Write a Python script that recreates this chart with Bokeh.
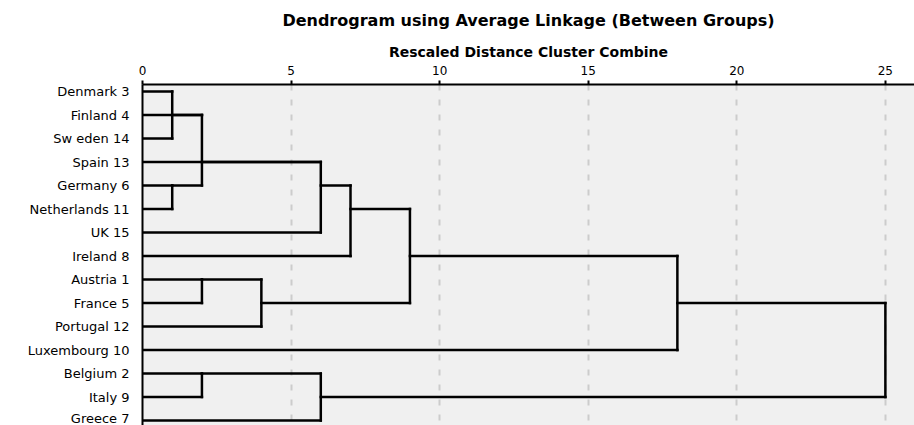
from bokeh.plotting import figure
from bokeh.models import Range1d, FixedTicker, Title
from bokeh.embed import file_html
from bokeh.resources import INLINE

labels = ["Denmark 3", "Finland 4", "Sw eden 14", "Spain 13", "Germany 6",
          "Netherlands 11", "UK 15", "Ireland 8", "Austria 1", "France 5",
          "Portugal 12", "Luxembourg 10", "Belgium 2", "Italy 9", "Greece 7"]
# clusters numbered after the 15 leaves (15, 16, ...)
merge_children = [[0, 2], [4, 5], [15, 1, 16], [17, 3, 6], [18, 7], [8, 9],
                  [20, 10], [19, 21], [22, 11], [12, 13], [24, 14], [23, 25]]
merge_dist = [1, 1, 2, 6, 7, 2, 4, 9, 18, 2, 6, 25]
merge_row = [1, 4, 3, 4, 5, 8, 9, 7, 9, 12, 13, 11]
x_ticks = [0, 5, 10, 15, 20, 25]

n = len(labels)
node_dist = [0] * n
node_row = list(range(n))
x0, y0, x1, y1 = [], [], [], []
for kids, d, r in zip(merge_children, merge_dist, merge_row):
    rows = [node_row[k] for k in kids]
    for k in kids:
        x0.append(node_dist[k]); y0.append(node_row[k])
        x1.append(d); y1.append(node_row[k])
    x0.append(d); y0.append(min(rows)); x1.append(d); y1.append(max(rows))
    node_dist.append(d)
    node_row.append(r)

FONT = "DejaVu Sans"

p = figure(width=914, height=425, output_backend="svg", toolbar_location=None,
           x_axis_location="above",
           x_range=Range1d(0, 25.98), y_range=Range1d(14.21, -0.30),
           min_border_left=142, min_border_right=0, min_border_bottom=0,
           min_border_top=84)

p.title.text = "Dendrogram using Average Linkage (Between Groups)"
p.title.align = "center"
p.title.text_font = FONT
p.title.text_font_size = "16px"
p.title.text_font_style = "bold"
p.title.text_color = "black"
p.title.standoff = 17

sub = Title(text="Rescaled Distance Cluster Combine", align="center",
            text_font=FONT, text_font_size="14px", text_font_style="bold",
            text_color="black", standoff=6)
p.add_layout(sub, "above")

p.background_fill_color = "#f0f0f0"
p.border_fill_color = "white"
p.outline_line_color = None

xa = p.xaxis[0]
xa.ticker = FixedTicker(ticks=x_ticks)
xa.axis_line_width = 2
xa.axis_line_color = "black"
xa.major_tick_out = 4
xa.major_tick_in = 0
xa.major_tick_line_width = 2
xa.minor_tick_line_color = None
xa.major_label_text_font = FONT
xa.major_label_text_font_size = "12px"
xa.major_label_text_color = "black"
xa.major_label_standoff = 6

ya = p.yaxis[0]
ya.ticker = FixedTicker(ticks=list(range(n)))
ya.major_label_overrides = {i: s for i, s in enumerate(labels)}
ya.major_label_text_font = FONT
ya.major_label_text_font_size = "13px"
ya.major_label_text_color = "black"
ya.major_tick_line_color = None
ya.minor_tick_line_color = None
ya.major_label_standoff = 7
ya.axis_line_width = 2
ya.axis_line_color = "black"

p.xgrid.ticker = FixedTicker(ticks=x_ticks)
p.xgrid.grid_line_color = "#cccccc"
p.xgrid.grid_line_width = 2
p.xgrid.grid_line_dash = "6 9"
p.ygrid.grid_line_color = None

p.segment(x0=x0, y0=y0, x1=x1, y1=y1, line_color="black", line_width=2.5,
          line_cap="square")

open("out.html", "w").write(file_html(p, INLINE))
